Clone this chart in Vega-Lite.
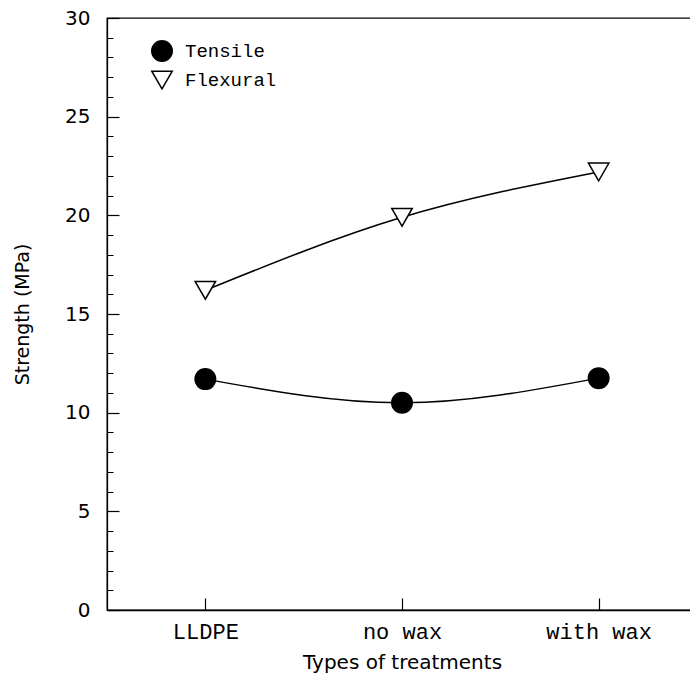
{
  "$schema": "https://vega.github.io/schema/vega-lite/v6.json",
  "autosize": "none",
  "padding": {"left": 107, "top": 18, "right": 0, "bottom": 68},
  "width": 590,
  "height": 592,
  "background": "white",
  "config": {
    "view": {"stroke": "black", "strokeWidth": 1.3},
    "axis": {"domainColor": "black", "tickColor": "black", "labelColor": "black", "titleColor": "black", "grid": false}
  },
  "data": {
    "values": [
      {"treatment": "LLDPE", "series": "Tensile", "strength": 11.7},
      {"treatment": "no wax", "series": "Tensile", "strength": 10.5},
      {"treatment": "with wax", "series": "Tensile", "strength": 11.75},
      {"treatment": "LLDPE", "series": "Flexural", "strength": 16.2},
      {"treatment": "no wax", "series": "Flexural", "strength": 19.9},
      {"treatment": "with wax", "series": "Flexural", "strength": 22.2}
    ]
  },
  "layer": [
    {
      "mark": {"type": "tick", "opacity": 0},
      "encoding": {
        "x": {
          "field": "treatment", "type": "ordinal", "sort": ["LLDPE", "no wax", "with wax"],
          "scale": {"type": "point", "padding": 0.5},
          "axis": {"title": "Types of treatments", "labelAngle": 0, "labelFont": "Liberation Mono", "labelFontSize": 22, "labelPadding": 23, "tickSize": -12, "tickWidth": 1.2, "domainWidth": 1.3, "titleFont": "DejaVu Sans", "titleFontSize": 20, "titleFontWeight": "normal", "titlePadding": 10}
        },
        "y": {
          "field": "strength", "type": "quantitative",
          "scale": {"domain": [0, 30], "nice": false, "zero": true},
          "axis": {"orient": "left", "values": [1,2,3,4,6,7,8,9,11,12,13,14,16,17,18,19,21,22,23,24,26,27,28,29], "labels": false, "domain": false, "tickSize": -6, "tickWidth": 1, "title": null}
        }
      }
    },
    {
      "mark": {"type": "line", "interpolate": "natural", "color": "black", "strokeWidth": 1.5},
      "encoding": {
        "x": {"field": "treatment", "type": "ordinal", "sort": ["LLDPE", "no wax", "with wax"], "scale": {"type": "point", "padding": 0.5}},
        "y": {
          "field": "strength", "type": "quantitative",
          "scale": {"domain": [0, 30], "nice": false, "zero": true},
          "axis": {"orient": "left", "values": [0,5,10,15,20,25,30], "title": "Strength (MPa)", "labelFont": "DejaVu Sans", "labelFontSize": 20, "labelPadding": 29, "tickSize": -12, "tickWidth": 1.2, "domainWidth": 1.3, "titleFont": "DejaVu Sans", "titleFontSize": 19, "titleFontWeight": "normal", "titlePadding": 32}
        },
        "detail": {"field": "series"}
      }
    },
    {
      "mark": {"type": "point", "filled": false, "opacity": 1, "strokeWidth": 1.5},
      "encoding": {
        "x": {"field": "treatment", "type": "ordinal", "sort": ["LLDPE", "no wax", "with wax"], "scale": {"type": "point", "padding": 0.5}},
        "y": {"field": "strength", "type": "quantitative"},
        "shape": {"field": "series", "type": "nominal", "sort": ["Tensile", "Flexural"], "scale": {"domain": ["Tensile", "Flexural"], "range": ["circle", "triangle-down"]},
          "legend": {"title": null, "orient": "none", "legendX": 44, "legendY": 22, "symbolSize": 420, "labelFont": "Liberation Mono", "labelFontSize": 19, "labelOffset": 12, "rowPadding": 3,
            "encode": {"symbols": {"update": {"stroke": {"value": "black"}, "strokeWidth": {"value": 1.5}, "opacity": {"value": 1}}}}}},
        "fill": {"field": "series", "type": "nominal", "sort": ["Tensile", "Flexural"], "scale": {"domain": ["Tensile", "Flexural"], "range": ["black", "white"]},
          "legend": {"title": null, "orient": "none", "legendX": 44, "legendY": 22, "symbolSize": 420, "labelFont": "Liberation Mono", "labelFontSize": 19, "labelOffset": 12, "rowPadding": 3,
            "encode": {"symbols": {"update": {"stroke": {"value": "black"}, "strokeWidth": {"value": 1.5}, "opacity": {"value": 1}}}}}},
        "stroke": {"value": "black"},
        "size": {"value": 420}
      }
    }
  ],
  "resolve": {"axis": {"y": "independent"}}
}
